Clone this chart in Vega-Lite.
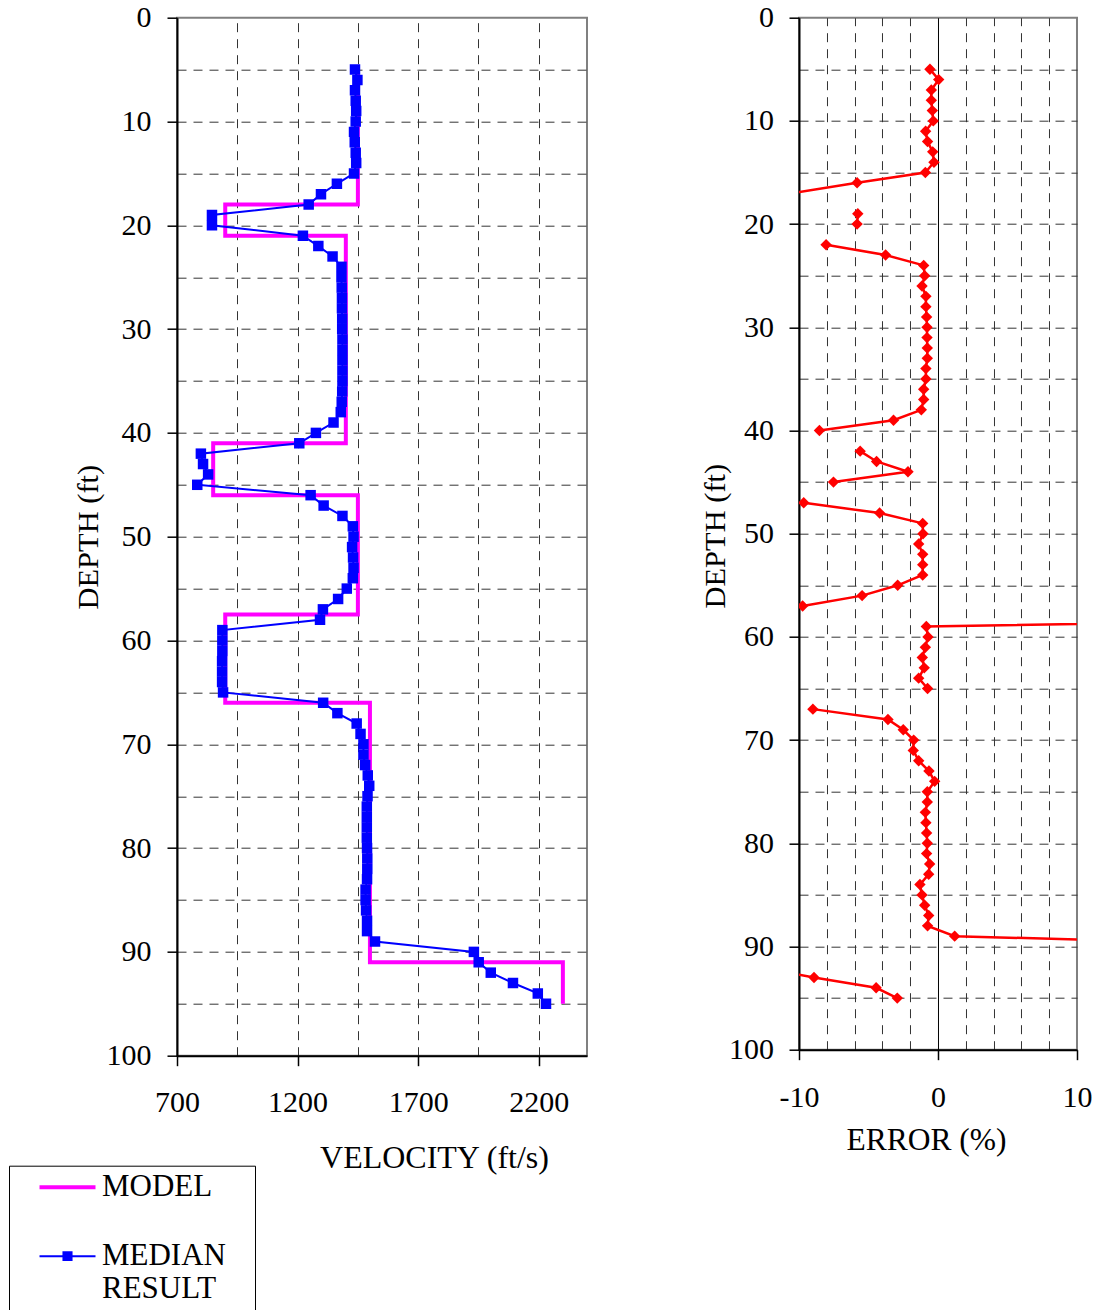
{
  "$schema": "https://vega.github.io/schema/vega-lite/v6.json",
  "background": "white",
  "padding": {"left": 8, "top": 1.7, "right": 5, "bottom": 5},
  "spacing": 112,
  "config": {
    "font": "Liberation Serif",
    "view": {"stroke": "#808080", "strokeWidth": 2},
    "axis": {
      "labelFont": "Liberation Serif", "titleFont": "Liberation Serif",
      "labelFontSize": 30, "titleFontSize": 30.5, "labelColor": "black", "titleColor": "black",
      "titleFontWeight": "normal", "domainColor": "black", "domainWidth": 2,
      "tickColor": "black", "tickSize": 10, "tickWidth": 1.5,
      "gridColor": "#333333", "gridDash": [9, 7], "gridWidth": 1,
      "labelOverlap": false, "labelFlush": false, "labelBound": false
    }
  },
  "datasets": {
    "model": [
      {"i": 0, "depth": 5, "velocity": 1450}, {"i": 1, "depth": 18, "velocity": 1450},
      {"i": 2, "depth": 18, "velocity": 900}, {"i": 3, "depth": 21, "velocity": 900},
      {"i": 4, "depth": 21, "velocity": 1400}, {"i": 5, "depth": 41, "velocity": 1400},
      {"i": 6, "depth": 41, "velocity": 850}, {"i": 7, "depth": 46, "velocity": 850},
      {"i": 8, "depth": 46, "velocity": 1450}, {"i": 9, "depth": 57.5, "velocity": 1450},
      {"i": 10, "depth": 57.5, "velocity": 900}, {"i": 11, "depth": 66, "velocity": 900},
      {"i": 12, "depth": 66, "velocity": 1500}, {"i": 13, "depth": 91, "velocity": 1500},
      {"i": 14, "depth": 91, "velocity": 2300}, {"i": 15, "depth": 95, "velocity": 2300}
    ],
    "median": [
      {"depth": 5, "velocity": 1438}, {"depth": 6, "velocity": 1448}, {"depth": 7, "velocity": 1438},
      {"depth": 8, "velocity": 1441}, {"depth": 9, "velocity": 1443}, {"depth": 10, "velocity": 1441},
      {"depth": 11, "velocity": 1434}, {"depth": 12, "velocity": 1437}, {"depth": 13, "velocity": 1441},
      {"depth": 14, "velocity": 1443}, {"depth": 15, "velocity": 1434}, {"depth": 16, "velocity": 1363},
      {"depth": 17, "velocity": 1297}, {"depth": 18, "velocity": 1246}, {"depth": 19, "velocity": 845},
      {"depth": 20, "velocity": 845}, {"depth": 21, "velocity": 1222}, {"depth": 22, "velocity": 1286},
      {"depth": 23, "velocity": 1345}, {"depth": 24, "velocity": 1382}, {"depth": 25, "velocity": 1382},
      {"depth": 26, "velocity": 1383}, {"depth": 27, "velocity": 1384}, {"depth": 28, "velocity": 1384},
      {"depth": 29, "velocity": 1385}, {"depth": 30, "velocity": 1385}, {"depth": 31, "velocity": 1386},
      {"depth": 32, "velocity": 1386}, {"depth": 33, "velocity": 1386}, {"depth": 34, "velocity": 1386},
      {"depth": 35, "velocity": 1386}, {"depth": 36, "velocity": 1385}, {"depth": 37, "velocity": 1383},
      {"depth": 38, "velocity": 1379}, {"depth": 39, "velocity": 1349}, {"depth": 40, "velocity": 1276},
      {"depth": 41, "velocity": 1207}, {"depth": 42, "velocity": 799}, {"depth": 43, "velocity": 808},
      {"depth": 44, "velocity": 829}, {"depth": 45, "velocity": 784}, {"depth": 46, "velocity": 1254},
      {"depth": 47, "velocity": 1308}, {"depth": 48, "velocity": 1386}, {"depth": 49, "velocity": 1429},
      {"depth": 50, "velocity": 1432}, {"depth": 51, "velocity": 1426}, {"depth": 52, "velocity": 1430},
      {"depth": 53, "velocity": 1432}, {"depth": 54, "velocity": 1429}, {"depth": 55, "velocity": 1404},
      {"depth": 56, "velocity": 1368}, {"depth": 57, "velocity": 1305}, {"depth": 58, "velocity": 1293},
      {"depth": 59, "velocity": 888}, {"depth": 60, "velocity": 888}, {"depth": 61, "velocity": 888},
      {"depth": 62, "velocity": 887}, {"depth": 63, "velocity": 887}, {"depth": 64, "velocity": 887},
      {"depth": 65, "velocity": 891}, {"depth": 66, "velocity": 1306}, {"depth": 67, "velocity": 1365},
      {"depth": 68, "velocity": 1445}, {"depth": 69, "velocity": 1461}, {"depth": 70, "velocity": 1473},
      {"depth": 71, "velocity": 1473}, {"depth": 72, "velocity": 1480}, {"depth": 73, "velocity": 1491},
      {"depth": 74, "velocity": 1497}, {"depth": 75, "velocity": 1490}, {"depth": 76, "velocity": 1487},
      {"depth": 77, "velocity": 1487}, {"depth": 78, "velocity": 1487}, {"depth": 79, "velocity": 1487},
      {"depth": 80, "velocity": 1488}, {"depth": 81, "velocity": 1489}, {"depth": 82, "velocity": 1489},
      {"depth": 83, "velocity": 1488}, {"depth": 84, "velocity": 1482}, {"depth": 85, "velocity": 1482},
      {"depth": 86, "velocity": 1484}, {"depth": 87, "velocity": 1488}, {"depth": 88, "velocity": 1488},
      {"depth": 89, "velocity": 1521}, {"depth": 90, "velocity": 1931}, {"depth": 91, "velocity": 1951},
      {"depth": 92, "velocity": 2001}, {"depth": 93, "velocity": 2093}, {"depth": 94, "velocity": 2196},
      {"depth": 95, "velocity": 2230}
    ],
    "error": [
      {"depth": 5, "error": -0.58}, {"depth": 6, "error": 0.05}, {"depth": 7, "error": -0.48},
      {"depth": 8, "error": -0.48}, {"depth": 9, "error": -0.41}, {"depth": 10, "error": -0.34},
      {"depth": 11, "error": -0.89}, {"depth": 12, "error": -0.75}, {"depth": 13, "error": -0.38},
      {"depth": 14, "error": -0.29}, {"depth": 15, "error": -0.91}, {"depth": 16, "error": -5.82},
      {"depth": 17, "error": -10.5}, {"depth": 18, "error": null}, {"depth": 19, "error": -5.77},
      {"depth": 20, "error": -5.82}, {"depth": 21, "error": null}, {"depth": 22, "error": -8.05},
      {"depth": 23, "error": -3.77}, {"depth": 24, "error": -1.03}, {"depth": 25, "error": -0.96},
      {"depth": 26, "error": -1.15}, {"depth": 27, "error": -0.87}, {"depth": 28, "error": -0.87},
      {"depth": 29, "error": -0.82}, {"depth": 30, "error": -0.79}, {"depth": 31, "error": -0.79},
      {"depth": 32, "error": -0.77}, {"depth": 33, "error": -0.77}, {"depth": 34, "error": -0.87},
      {"depth": 35, "error": -0.87}, {"depth": 36, "error": -1.03}, {"depth": 37, "error": -1.03},
      {"depth": 38, "error": -1.2}, {"depth": 39, "error": -3.2}, {"depth": 40, "error": -8.53},
      {"depth": 41, "error": null}, {"depth": 42, "error": -5.6}, {"depth": 43, "error": -4.42},
      {"depth": 44, "error": -2.16}, {"depth": 45, "error": -7.52}, {"depth": 46, "error": null},
      {"depth": 47, "error": -9.66}, {"depth": 48, "error": -4.2}, {"depth": 49, "error": -1.1},
      {"depth": 50, "error": -1.08}, {"depth": 51, "error": -1.39}, {"depth": 52, "error": -1.1},
      {"depth": 53, "error": -1.1}, {"depth": 54, "error": -1.1}, {"depth": 55, "error": -2.9},
      {"depth": 56, "error": -5.46}, {"depth": 57, "error": -9.74}, {"depth": 57.5, "error": null},
      {"depth": 58, "error": 43.7},
      {"depth": 59, "error": -0.84}, {"depth": 60, "error": -0.72}, {"depth": 61, "error": -0.91},
      {"depth": 62, "error": -1.13}, {"depth": 63, "error": -0.99}, {"depth": 64, "error": -1.39},
      {"depth": 65, "error": -0.75}, {"depth": 66, "error": null}, {"depth": 67, "error": -9.0},
      {"depth": 68, "error": -3.6}, {"depth": 69, "error": -2.5}, {"depth": 70, "error": -1.75},
      {"depth": 71, "error": -1.78}, {"depth": 72, "error": -1.39}, {"depth": 73, "error": -0.65},
      {"depth": 74, "error": -0.24}, {"depth": 75, "error": -0.77}, {"depth": 76, "error": -0.77},
      {"depth": 77, "error": -0.91}, {"depth": 78, "error": -0.87}, {"depth": 79, "error": -0.82},
      {"depth": 80, "error": -0.77}, {"depth": 81, "error": -0.82}, {"depth": 82, "error": -0.6},
      {"depth": 83, "error": -0.67}, {"depth": 84, "error": -1.3}, {"depth": 85, "error": -1.15},
      {"depth": 86, "error": -0.96}, {"depth": 87, "error": -0.67}, {"depth": 88, "error": -0.75},
      {"depth": 89, "error": 1.2}, {"depth": 90, "error": 28.7}, {"depth": 91, "error": null},
      {"depth": 92, "error": -13.0}, {"depth": 93, "error": -8.92}, {"depth": 94, "error": -4.45},
      {"depth": 95, "error": -2.93}
    ]
  },
  "hconcat": [
    {
      "width": 410,
      "height": 1038,
      "encoding": {
        "x": {
          "field": "velocity", "type": "quantitative",
          "scale": {"domain": [700, 2400], "nice": false, "zero": false},
          "axis": {
            "values": [700, 950, 1200, 1450, 1700, 1950, 2200],
            "format": "d",
            "labelExpr": "datum.value % 500 == 200 ? datum.label : ''",
            "tickOpacity": {"condition": {"test": "datum.value % 500 == 200", "value": 1}, "value": 0},
            "gridOpacity": {"condition": {"test": "datum.value == 700", "value": 0}, "value": 1},
            "labelPadding": 22,
            "title": "VELOCITY (ft/s)",
            "titleFontSize": 32,
            "titleX": 257, "titleY": 102, "titleBaseline": "middle", "titleAlign": "center"
          }
        },
        "y": {
          "field": "depth", "type": "quantitative",
          "scale": {"domain": [0, 100], "nice": false, "zero": false, "reverse": true},
          "axis": {
            "values": [0, 5, 10, 15, 20, 25, 30, 35, 40, 45, 50, 55, 60, 65, 70, 75, 80, 85, 90, 95, 100],
            "labelExpr": "datum.value % 10 == 0 ? datum.label : ''",
            "tickOpacity": {"condition": {"test": "datum.value % 10 == 0", "value": 1}, "value": 0},
            "gridOpacity": {"condition": {"test": "datum.value == 0 || datum.value == 100", "value": 0}, "value": 1},
            "labelPadding": 16,
            "title": "DEPTH (ft)",
            "titleX": -89, "titleY": 519, "titleBaseline": "middle", "titleAlign": "center", "titleAngle": -90
          }
        }
      },
      "layer": [
        {
          "data": {"name": "model"},
          "mark": {"type": "line", "strokeWidth": 4, "clip": true},
          "encoding": {
            "order": {"field": "i", "type": "quantitative"},
            "color": {
              "datum": "MODEL", "type": "nominal",
              "scale": {"domain": ["MODEL", "MEDIAN RESULT"], "range": ["#FF00FF", "#0000FF"]},
              "legend": {
                "title": null,
                "orient": "none", "legendX": -168, "legendY": 1148,
                "direction": "vertical",
                "strokeColor": "black",
                "padding": 6,
                "labelFont": "Liberation Serif", "labelFontSize": 31, "labelColor": "black",
                "labelOffset": 19, "labelLimit": 400,
                "symbolSize": 3136,
                "symbolOffset": 37,
                "symbolStrokeWidth": {"expr": "datum.value === 'MODEL' ? 4 : 2"},
                "symbolType": {"expr": "datum.value === 'MODEL' ? 'stroke' : 'M-1,0L1,0M-0.18,-0.14L0.18,-0.14M-0.18,-0.07L0.18,-0.07M-0.18,0L0.18,0M-0.18,0.07L0.18,0.07M-0.18,0.14L0.18,0.14'"},
                "labelExpr": "datum.label === 'MEDIAN RESULT' ? ['MEDIAN\u2800', 'RESULT'] : datum.label",
                "rowPadding": 37
              }
            }
          }
        },
        {
          "data": {"name": "median"},
          "mark": {"type": "line", "strokeWidth": 2, "clip": true},
          "encoding": {
            "order": {"field": "depth", "type": "quantitative"},
            "color": {"datum": "MEDIAN RESULT", "type": "nominal"}
          }
        },
        {
          "data": {"name": "median"},
          "mark": {"type": "point", "shape": "square", "filled": true, "size": 110, "opacity": 1, "clip": true},
          "encoding": {
            "color": {"datum": "MEDIAN RESULT", "type": "nominal"}
          }
        }
      ]
    },
    {
      "width": 278,
      "height": 1032,
      "data": {"name": "error"},
      "encoding": {
        "x": {
          "field": "error", "type": "quantitative",
          "scale": {"domain": [-10, 10], "nice": false, "zero": false},
          "axis": {
            "values": [-10, -8, -6, -4, -2, 0, 2, 4, 6, 8, 10],
            "labelExpr": "datum.value == -10 ? '-10' : datum.value == 0 ? '0' : datum.value == 10 ? '10' : ''",
            "tickOpacity": {"condition": {"test": "datum.value % 10 == 0", "value": 1}, "value": 0},
            "gridOpacity": {"condition": {"test": "datum.value == -10 || datum.value == 10", "value": 0}, "value": 1},
            "gridDash": {"condition": {"test": "datum.value == 0", "value": []}, "value": [9, 7]},
            "gridColor": {"condition": {"test": "datum.value == 0", "value": "black"}, "value": "#333333"},
            "labelPadding": 23,
            "title": "ERROR (%)",
            "titleFontSize": 31.5,
            "titleX": 127, "titleY": 91, "titleBaseline": "middle", "titleAlign": "center"
          }
        },
        "y": {
          "field": "depth", "type": "quantitative",
          "scale": {"domain": [0, 100], "nice": false, "zero": false, "reverse": true},
          "axis": {
            "values": [0, 5, 10, 15, 20, 25, 30, 35, 40, 45, 50, 55, 60, 65, 70, 75, 80, 85, 90, 95, 100],
            "labelExpr": "datum.value % 10 == 0 ? datum.label : ''",
            "tickOpacity": {"condition": {"test": "datum.value % 10 == 0", "value": 1}, "value": 0},
            "gridOpacity": {"condition": {"test": "datum.value == 0 || datum.value == 100", "value": 0}, "value": 1},
            "labelPadding": 15.5,
            "title": "DEPTH (ft)",
            "titleX": -83, "titleY": 518, "titleBaseline": "middle", "titleAlign": "center", "titleAngle": -90
          }
        }
      },
      "layer": [
        {
          "mark": {"type": "line", "color": "#FF0000", "strokeWidth": 2.5, "clip": true, "invalid": "break-paths-filter-domains"},
          "encoding": {"order": {"field": "depth", "type": "quantitative"}}
        },
        {
          "mark": {"type": "point", "shape": "diamond", "filled": true, "color": "#FF0000", "size": 130, "opacity": 1, "clip": true}
        }
      ]
    }
  ]
}
